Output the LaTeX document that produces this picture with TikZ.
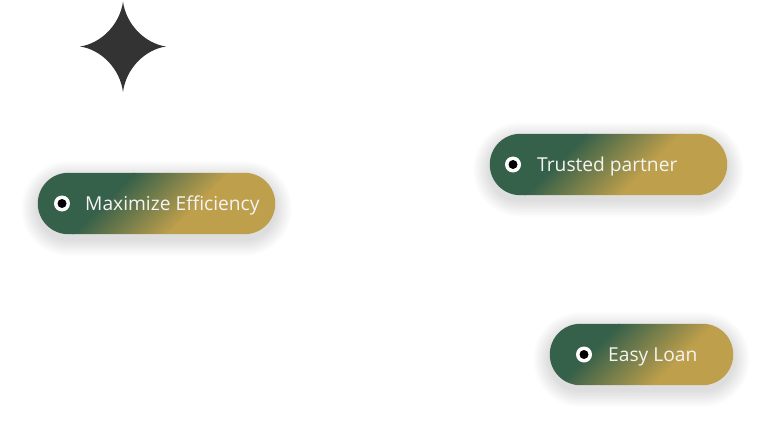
\documentclass[tikz,border=0pt]{standalone}
\usepackage{fontspec}
\setmainfont{Open Sans}
\definecolor{pg}{HTML}{35604A}
\definecolor{pa}{HTML}{BE9F4B}
\definecolor{starc}{HTML}{333333}
\definecolor{ptext}{HTML}{F4F4F4}
\tikzset{
  pillshape/.style={rectangle, minimum height=61pt, inner sep=0pt, draw=none},
  bulletout/.style={circle, fill=white, minimum size=16pt, inner sep=0pt},
  bulletin/.style={circle, fill=black, minimum size=9pt, inner sep=0pt},
  pilltext/.style={anchor=base west, inner sep=0pt, text=ptext,
    font=\fontsize{19.2}{21}\selectfont}
}
\newcommand\pillshadow[1]{%
  \foreach \d in {1.5,3,...,16.5} {%
    \pgfmathsetmacro\rr{30.5+\d}%
    \pgfmathsetmacro\ya{-\d-5}%
    \pgfmathsetmacro\yb{\d-5}%
    \fill[black, opacity=0.012, rounded corners=\rr pt]
      ([xshift=-\d pt, yshift=\ya pt]#1.south west) rectangle
      ([xshift=\d pt, yshift=\yb pt]#1.north east);
  }}
\newcommand\pillgrad[1]{%
  \begin{scope}
    \clip[rounded corners=30.5pt] (#1.south west) rectangle (#1.north east);
    \begin{scope}[transform canvas={shift={(#1.center)}, rotate=-45}]
      \fill[pg] (-300pt,-300pt) rectangle (-37pt,300pt);
      \shade[left color=pg, right color=pa] (-38pt,-300pt) rectangle (30pt,300pt);
      \fill[pa] (29pt,-300pt) rectangle (300pt,300pt);
    \end{scope}
  \end{scope}}
\begin{document}
\begin{tikzpicture}[x=1pt, y=-1pt]
\useasboundingbox (0,0) rectangle (768,428);
\fill[white] (0,0) rectangle (768,428);
% star
\begin{scope}[shift={(123,46.5)}]
\fill[starc] (0,-45) .. controls (3,-22) and (22,-3) .. (43,0)
  .. controls (22,3) and (3,22) .. (0,45.5)
  .. controls (-3,22) and (-22,3) .. (-43,0)
  .. controls (-22,-3) and (-3,-22) .. (0,-45) -- cycle;
\end{scope}
% pills
\node[pillshape, minimum width=237pt] (p1) at (156.5,203.5) {};
\node[pillshape, minimum width=237pt] (p2) at (608.5,164.5) {};
\node[pillshape, minimum width=183pt] (p3) at (641.5,354.5) {};
\pillshadow{p1}
\pillshadow{p2}
\pillshadow{p3}
\pillgrad{p1}
\pillgrad{p2}
\pillgrad{p3}
% bullets
\node[bulletout] (b1o) at (62,203.5) {};
\node[bulletin] (b1i) at (b1o.center) {};
\node[bulletout] (b2o) at (513,164.5) {};
\node[bulletin] (b2i) at (b2o.center) {};
\node[bulletout] (b3o) at (584,354.5) {};
\node[bulletin] (b3i) at (b3o.center) {};
% labels
\node[pilltext] (t1) at (85,210) {Maximize Efficiency};
\node[pilltext] (t2) at (537,171) {Trusted partner};
\node[pilltext] (t3) at (608,361) {Easy Loan};
\end{tikzpicture}
\end{document}
